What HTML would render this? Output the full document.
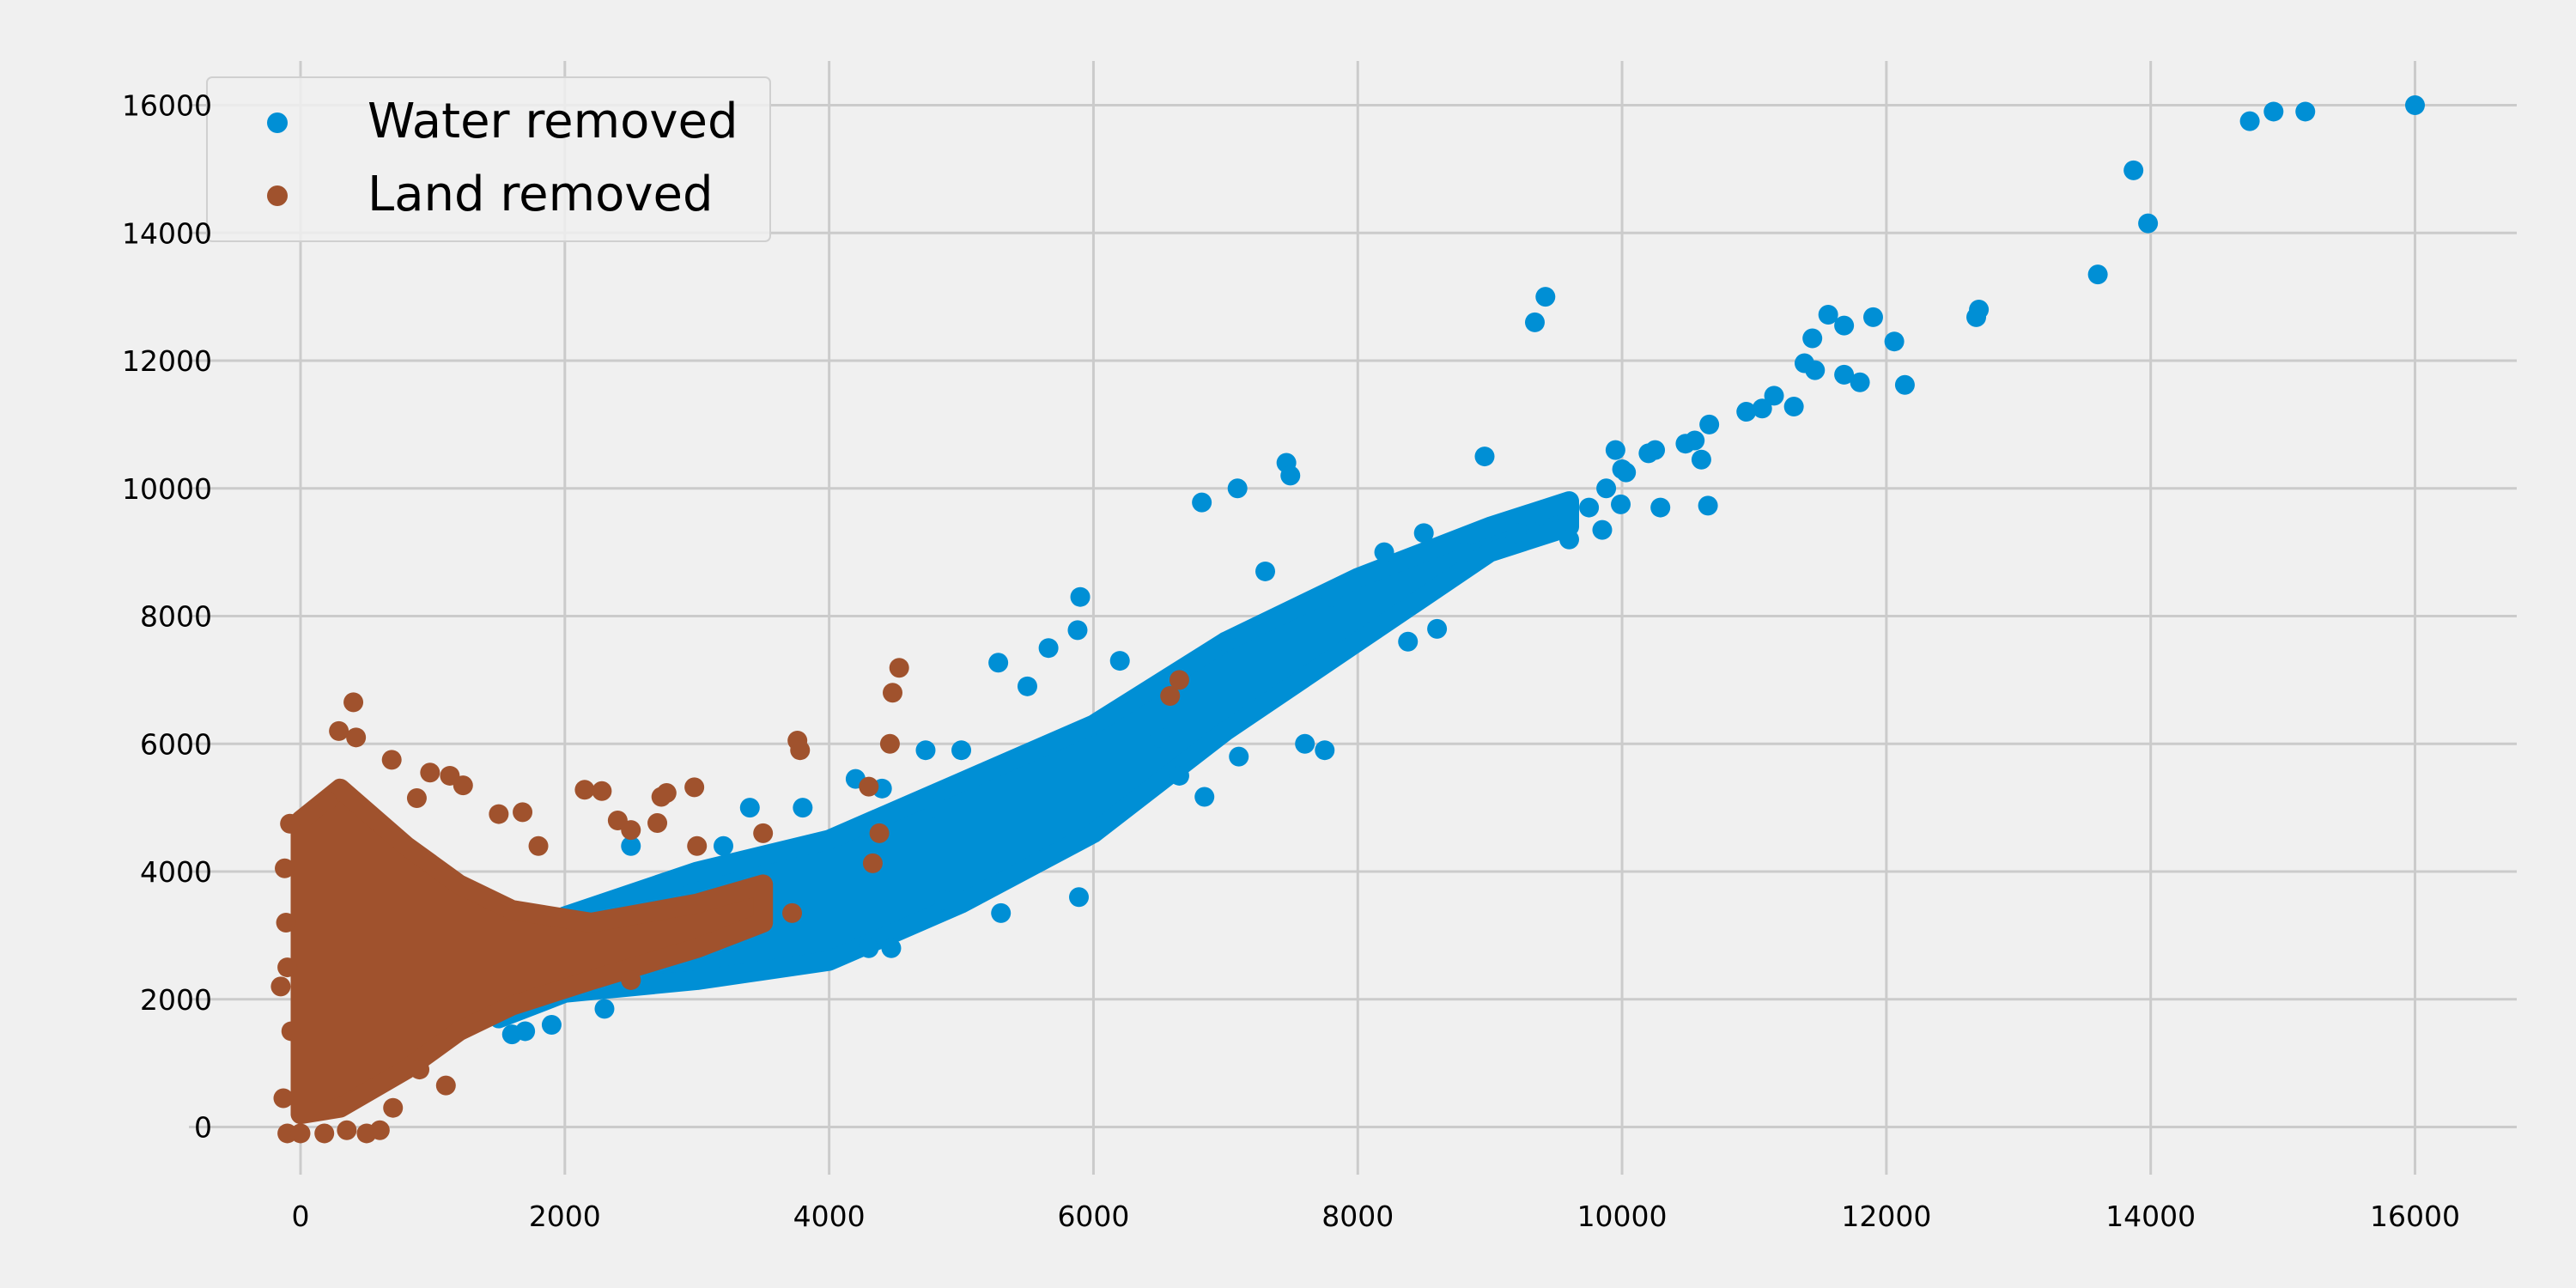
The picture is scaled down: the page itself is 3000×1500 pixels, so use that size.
<!DOCTYPE html>
<html><head><meta charset="utf-8">
<style>
html,body{margin:0;padding:0;background:#f0f0f0;}
svg{display:block;font-family:"DejaVu Sans","Liberation Sans",sans-serif;}
</style></head>
<body>
<svg id="chart" width="3000" height="1500" viewBox="0 0 3000 1500" xmlns="http://www.w3.org/2000/svg">
<rect x="0" y="0" width="3000" height="1500" fill="#f0f0f0"/>
<g id="grid"></g>
<g id="marks"></g>
<g>
  <rect x="241" y="90" width="656" height="191" rx="6" fill="#f0f0f0" fill-opacity="0.85" stroke="#d0d0d0" stroke-width="2"/>
  <g>
    <circle cx="323" cy="143" r="12" fill="#008fd5"/>
    <text x="428" y="160" font-size="56" fill="#000">Water removed</text>
  </g>
  <g>
    <circle cx="323" cy="228" r="12" fill="#a0522d"/>
    <text x="428" y="245" font-size="56" fill="#000">Land removed</text>
  </g>
</g>
<g id="ticks"></g>
</svg>
<script>
const xTicks = [0,2000,4000,6000,8000,10000,12000,14000,16000];
const yTicks = [0,2000,4000,6000,8000,10000,12000,14000,16000];
// dense cloud envelopes: x, low y, high y
const waterEnvX = [1500,2000,3000,4000,5000,6000,7000,8000,9000,9600];
const waterEnvLo = [1700,2100,2300,2600,3500,4600,6200,7600,9000,9400];
const waterEnvHi = [2700,3300,4000,4500,5400,6300,7600,8600,9400,9800];
const landEnvX = [0,300,800,1200,1600,2200,3000,3500];
const landEnvLo = [200,300,900,1500,1900,2300,2800,3200];
const landEnvHi = [4800,5300,4400,3800,3400,3200,3500,3800];
// individual points
const waterX = [16000,15170,14930,14750,13870,13980,13600,12700,12680,12060,12140,11900,11560,11680,11380,11440,11460,11800,11680,11300,11150,11060,10940,10660,10600,10480,10550,10250,10200,10000,10030,9950,9880,10650,10290,9850,9990,9420,9340,8960,7460,7490,7090,6820,7300,5900,5880,5660,5280,6840,6650,7600,7750,7100,5890,5300,4870,4300,4470,4730,4200,8380,8600,9600,9750,8500,8200,1700,1900,2500,3200,3800,4400,5000,5500,6200,6500,7000,7800,8800,9200,1600,2300,3400,4800];
const waterY = [16000,15900,15900,15750,14980,14150,13350,12800,12680,12300,11620,12680,12720,12550,11960,12350,11850,11660,11780,11280,11450,11250,11200,11000,10450,10700,10750,10600,10550,10300,10250,10600,10000,9730,9700,9350,9750,13000,12600,10500,10400,10200,10000,9780,8700,8300,7780,7500,7270,5170,5500,6000,5900,5800,3600,3350,3550,2800,2800,5900,5450,7600,7800,9200,9700,9300,9000,1500,1600,4400,4400,5000,5300,5900,6900,7300,6100,7600,8300,9000,9300,1450,1850,5000,5000];
const landX = [400,290,420,690,980,1130,1230,880,2150,2280,2730,2770,2980,3760,3780,4530,4480,4460,3720,4330,4380,4300,6580,6650,2500,1680,1100,-120,-80,-110,-100,-150,-70,-130,-100,0,180,200,500,350,3000,3500,2500,2700,600,700,900,1500,1800,2400];
const landY = [6650,6200,6100,5750,5550,5500,5350,5150,5280,5260,5170,5230,5320,6050,5900,7190,6800,6000,3350,4130,4600,5330,6750,7000,2300,4930,650,4050,4750,3200,2500,2200,1500,450,-100,-100,-100,5100,-100,-50,4400,4600,4650,4760,-50,300,900,4900,4400,4800];

const X0=350, X1=2812.5, Y0=1312.5, Y1=122.5;
const sx = v => X0 + (v/16000)*(X1-X0);
const sy = v => Y0 - (v/16000)*(Y0-Y1);
const NS='http://www.w3.org/2000/svg';
function mk(tag, attrs, parent){const e=document.createElementNS(NS,tag);for(const k in attrs)e.setAttribute(k,attrs[k]);parent.appendChild(e);return e;}
const grid=document.getElementById('grid'), ticks=document.getElementById('ticks'), marks=document.getElementById('marks');

xTicks.forEach(t=>{
  const l=mk('line',{x1:sx(t),x2:sx(t),y1:71,y2:1368,stroke:'#cbcbcb','stroke-width':3},grid);
  
  
  const tx=mk('text',{x:sx(t),y:1428,'font-size':33,'text-anchor':'middle',fill:'#000'},ticks);
  
  
  tx.textContent=t;
});
yTicks.forEach(t=>{
  const l=mk('line',{x1:220,x2:2931,y1:sy(t),y2:sy(t),stroke:'#cbcbcb','stroke-width':3},grid);
  
  
  const tx=mk('text',{x:247,y:sy(t)+12,'font-size':33,'text-anchor':'end',fill:'#000'},ticks);
  
  
  tx.textContent=t;
});

function envelope(xs,lo,hi,color,name){
  let pts=[];
  for(let i=0;i<xs.length;i++)pts.push(sx(xs[i])+','+sy(hi[i]));
  for(let i=xs.length-1;i>=0;i--)pts.push(sx(xs[i])+','+sy(lo[i]));
  const p=mk('polygon',{points:pts.join(' '),fill:color,stroke:color,'stroke-width':23,'stroke-linejoin':'round'},marks);
  
  
}
function dots(xs,ys,color,name){
  for(let i=0;i<xs.length;i++){
    const c=mk('circle',{cx:sx(xs[i]),cy:sy(ys[i]),r:11.5,fill:color},marks);
    
    
  }
}
envelope(waterEnvX,waterEnvLo,waterEnvHi,'#008fd5','water-dense-cloud');
dots(waterX,waterY,'#008fd5','water-point');
envelope(landEnvX,landEnvLo,landEnvHi,'#a0522d','land-dense-cloud');
dots(landX,landY,'#a0522d','land-point');
</script>
</body></html>
